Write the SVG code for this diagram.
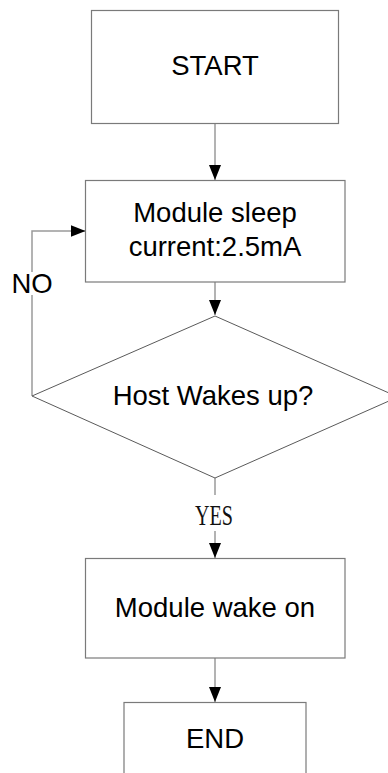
<svg xmlns="http://www.w3.org/2000/svg" width="388" height="773" viewBox="0 0 388 773">
<style>
.box{fill:#fff;stroke:#7a7a7a;stroke-width:1.2}
.dia{fill:#fff;stroke:#5a5a5a;stroke-width:1}
.conn{fill:none;stroke:#9a9a9a;stroke-width:1.5}
.t{font-family:"Liberation Sans",Arial,sans-serif;font-size:27.5px;fill:#000;text-anchor:middle}
.s{font-family:"Liberation Serif","Times New Roman",serif;font-size:29px;fill:#111;text-anchor:middle}
</style>
<defs>
<marker id="ah" viewBox="0 0 15 12" refX="15" refY="6" markerWidth="15" markerHeight="12" markerUnits="userSpaceOnUse" orient="auto">
<path d="M0,0 L15,6 L0,12 Z" fill="#000"/>
</marker>
</defs>
<rect width="388" height="773" fill="#fff"/>
<g id="connectors">
<line class="conn" x1="215" y1="123" x2="215" y2="180" marker-end="url(#ah)"/>
<line class="conn" x1="215" y1="282" x2="215" y2="315" marker-end="url(#ah)"/>
<polyline class="conn" points="32,396 32,231 85.5,231" marker-end="url(#ah)"/>
<line class="conn" x1="215" y1="478" x2="215" y2="558" marker-end="url(#ah)"/>
<line class="conn" x1="215" y1="658" x2="215" y2="702" marker-end="url(#ah)"/>
<g id="label-no">
<rect x="11" y="272" width="42" height="23" fill="#fff"/>
<text class="t" x="32" y="293">NO</text>
</g>
<g id="label-yes">
<rect x="193" y="495" width="44" height="36" fill="#fff"/>
<text class="s" x="214" y="525" textLength="38" lengthAdjust="spacingAndGlyphs">YES</text>
</g>
</g>
<g id="start">
<rect class="box" x="91.5" y="10.5" width="247" height="113"/>
<text class="t" x="215" y="75">START</text>
</g>
<g id="sleep">
<rect class="box" x="85.5" y="180.5" width="259.5" height="101.5"/>
<text class="t" x="215" y="222">Module sleep</text>
<text class="t" x="215" y="256">current:2.5mA</text>
</g>
<g id="decision">
<polygon class="dia" points="215,316 398,397 215,478 32,396"/>
<text class="t" x="213" y="405">Host Wakes up?</text>
</g>
<g id="wake">
<rect class="box" x="85.5" y="558.5" width="259.5" height="99.5"/>
<text class="t" x="215" y="617">Module wake on</text>
</g>
<g id="end">
<rect class="box" x="124" y="702.5" width="182" height="80"/>
<text class="t" x="215" y="748">END</text>
</g>
</svg>
